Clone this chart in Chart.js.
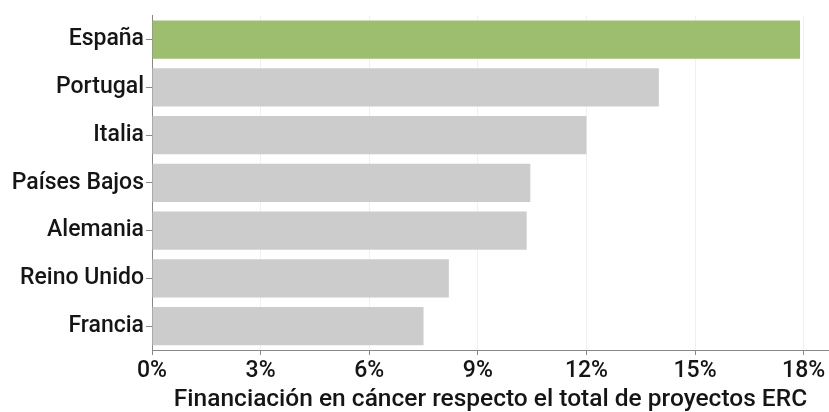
<!DOCTYPE html>
<html>
<head>
<meta charset="utf-8">
<script src="https://cdn.jsdelivr.net/npm/chart.js@4/dist/chart.umd.min.js"></script>
<style>
  html, body { margin: 0; padding: 0; background: #fff; }
  #wrap { width: 829px; height: 412px; }
</style>
</head>
<body>
<div id="wrap"><canvas id="chartFunding" width="829" height="412"></canvas></div>
<script>
// datos
const countries = ['España', 'Portugal', 'Italia', 'Países Bajos', 'Alemania', 'Reino Unido', 'Francia'];
const shareCancer = [17.9, 14.0, 12.0, 10.45, 10.35, 8.2, 7.5];
const barColors = ['#9dbd6f', '#cccccc', '#cccccc', '#cccccc', '#cccccc', '#cccccc', '#cccccc'];
const xTicks = [0, 3, 6, 9, 12, 15, 18];
const xTitle = 'Financiación en cáncer respecto el total de proyectos ERC';

Chart.defaults.font.family = 'Roboto';
Chart.defaults.color = '#151515';

let ctx = document.getElementById('chartFunding').getContext('2d');

let chart = new Chart(ctx, {
	type: 'bar',
	data: {
		labels: countries,
		datasets: [
			{
				data: shareCancer,
				backgroundColor: barColors,
				barPercentage: 0.8,
				categoryPercentage: 1.0,
			},
		],
	},
	options: {
		indexAxis: 'y',
		responsive: false,
		animation: false,
		layout: {
			padding: { top: 13, right: 0, left: 0, bottom: 0 },
		},
		plugins: {
			legend: { display: false },
			tooltip: { enabled: false },
		},
		scales: {
			x: {
				min: 0,
				max: 18.7,
				afterBuildTicks: function (axis) {
					axis.ticks = xTicks.map(function (v) { return { value: v }; });
				},
				afterFit: function (axis) {
					axis.height = 62;
				},
				ticks: {
					font: { size: 23, weight: '500' },
					padding: 2,
					callback: function (v) { return v + '%'; },
				},
				grid: {
					color: '#f0f0f0',
					tickColor: '#888',
					tickLength: 5,
				},
				border: { color: '#888' },
				title: {
					display: true,
					text: xTitle,
					font: { size: 24.5, weight: '500' },
					padding: { top: 0, bottom: -3 },
				},
			},
			y: {
				afterFit: function (axis) {
					axis.width = 152;
				},
				ticks: {
					font: { size: 23, weight: '500' },
					padding: 2,
				},
				grid: {
					offset: false,
					drawOnChartArea: false,
					tickColor: '#888',
					tickLength: 6,
				},
				border: { color: '#888' },
			},
		},
	},
});
</script>
</body>
</html>
